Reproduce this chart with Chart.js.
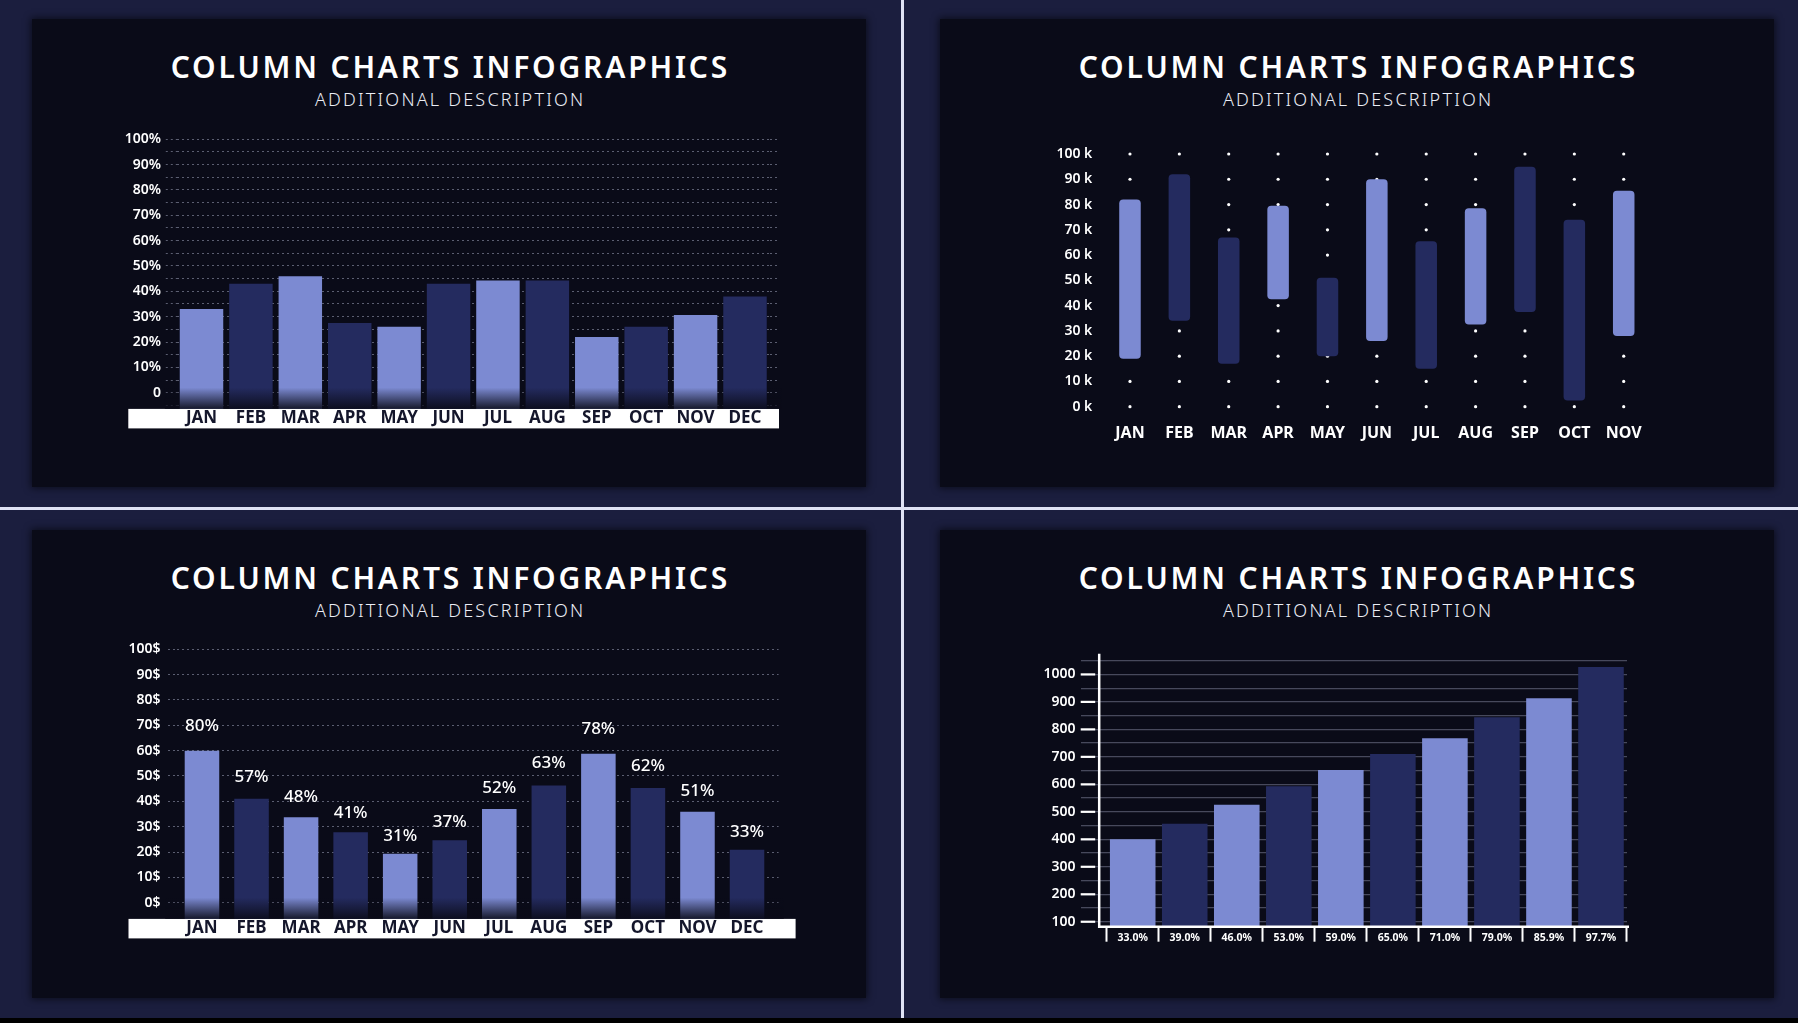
<!DOCTYPE html>
<html>
<head>
<meta charset="utf-8">
<script src="https://cdn.jsdelivr.net/npm/chart.js@4.4.1/dist/chart.umd.min.js"></script>
<style>
body{margin:0;width:1798px;height:1023px;background:#000;overflow:hidden;font-family:'Noto Sans',sans-serif}
#stage{position:absolute;left:0;top:0;width:1798px;height:1018px;background:#1b1e3e}
.vline{position:absolute;left:901px;top:0;width:3px;height:1018px;background:#dfe2f4}
.hline{position:absolute;left:0;top:507px;width:1798px;height:3px;background:#dfe2f4}
.panel{position:absolute;width:834px;height:468px;background:#0a0b18;box-shadow:0 0 7px 1px rgba(4,5,12,.7)}
.title{position:absolute;left:0;right:0;top:31px;line-height:34px;font-size:30px;font-weight:600;letter-spacing:2.8px;padding-left:2.8px;text-align:center;color:#fff}
.sub{position:absolute;left:0;right:0;top:69px;line-height:22px;font-size:18px;font-weight:300;letter-spacing:2.2px;padding-left:2.2px;text-align:center;color:#eceef6}
canvas{position:absolute}
</style>
</head>
<body>
<div id="stage">
  <div class="panel" style="left:32px;top:19px"><div class="title">COLUMN CHARTS INFOGRAPHICS</div><div class="sub">ADDITIONAL DESCRIPTION</div></div>
  <div class="panel" style="left:940px;top:19px"><div class="title">COLUMN CHARTS INFOGRAPHICS</div><div class="sub">ADDITIONAL DESCRIPTION</div></div>
  <div class="panel" style="left:32px;top:530px"><div class="title">COLUMN CHARTS INFOGRAPHICS</div><div class="sub">ADDITIONAL DESCRIPTION</div></div>
  <div class="panel" style="left:940px;top:530px"><div class="title">COLUMN CHARTS INFOGRAPHICS</div><div class="sub">ADDITIONAL DESCRIPTION</div></div>
  <div class="vline"></div>
  <div class="hline"></div>
</div>
<canvas id="share" width="670" height="320" style="left:120px;top:120px"></canvas>
<canvas id="ranges" width="630" height="320" style="left:1040px;top:130px"></canvas>
<canvas id="price" width="690" height="320" style="left:120px;top:630px"></canvas>
<canvas id="growth" width="650" height="320" style="left:1030px;top:640px"></canvas>
<script>
// top-left: monthly share
const months=["JAN","FEB","MAR","APR","MAY","JUN","JUL","AUG","SEP","OCT","NOV","DEC"];
const shareValues=[33,43,46,27.5,26,43,44.3,44.3,22,26,30.7,38];
const pctTicks=[0,10,20,30,40,50,60,70,80,90,100];

// top-right: floating ranges
const rangeMonths=["JAN","FEB","MAR","APR","MAY","JUN","JUL","AUG","SEP","OCT","NOV"];
const rangeLow=[19,34,17,42.5,20,26,15,32.5,37.5,2.5,28];
const rangeHigh=[82,92,67,79.5,51,90,65.5,78.5,95,74,85.5];
const kTicks=[0,10,20,30,40,50,60,70,80,90,100];

// bottom-left: price with percent tags
const priceValues=[60,41,33.7,27.8,19.3,24.6,37,46.2,58.8,45.3,35.9,20.9];
const priceTags=["80%","57%","48%","41%","31%","37%","52%","63%","78%","62%","51%","33%"];
const dollarTicks=[0,10,20,30,40,50,60,70,80,90,100];

// bottom-right: growth
const growthCats=["33.0%","39.0%","46.0%","53.0%","59.0%","65.0%","71.0%","79.0%","85.9%","97.7%"];
const growthValues=[400,457,526,593,652,710,768,844,913,1027];
const countTicks=[100,200,300,400,500,600,700,800,900,1000];

const LIGHT="#7c8ad2", DARK="#242b5f";
const alt=n=>Array.from({length:n},(_,i)=>i%2?DARK:LIGHT);
const rangeShades=[LIGHT,DARK,DARK,LIGHT,DARK,LIGHT,DARK,LIGHT,DARK,DARK,LIGHT];
const dotGrid="rgba(190,196,222,0.45)";
const gridGray="rgba(170,176,205,0.38)";

Chart.defaults.font.family="'Noto Sans', sans-serif";
Chart.defaults.color="#ffffff";
Chart.defaults.animation=false;
Chart.defaults.responsive=false;
Chart.defaults.plugins.legend.display=false;
Chart.defaults.plugins.tooltip.enabled=false;

// white strip behind the month labels
const band={
  id:"band",
  beforeDraw(chart,args,opts){
    const {ctx,chartArea:a,scales:{x}}=chart;
    ctx.save();
    ctx.fillStyle="#ffffff";
    ctx.fillRect(a.left-opts.left,x.top,a.right-a.left+opts.left+opts.right,x.bottom-x.top);
    ctx.restore();
  }
};

// bars fade out into the strip
const fade={
  id:"fade",
  afterDatasetsDraw(chart){
    const {ctx,chartArea:a,scales:{y}}=chart;
    const top=y.getPixelForValue(2);
    const g=ctx.createLinearGradient(0,top,0,a.bottom);
    g.addColorStop(0,"rgba(10,11,24,0)");
    g.addColorStop(1,"rgba(10,11,24,0.9)");
    ctx.save();
    ctx.fillStyle=g;
    ctx.fillRect(a.left-12,top,a.right-a.left+24,a.bottom-top);
    ctx.restore();
  }
};

const barTags={
  id:"barTags",
  afterDatasetsDraw(chart){
    const {ctx,chartArea:a}=chart;
    ctx.save();
    ctx.font="500 17px 'Noto Sans', sans-serif";
    ctx.fillStyle="#ffffff";
    ctx.textAlign="center";
    ctx.textBaseline="middle";
    chart.getDatasetMeta(0).data.forEach((bar,i)=>{
      const lift=13.3+0.068*(a.bottom-bar.y);
      ctx.fillText(priceTags[i],bar.x,bar.y-lift);
    });
    ctx.restore();
  }
};

// L shaped axis + white marks for the hundreds
const frame={
  id:"frame",
  afterDraw(chart){
    const {ctx,chartArea:a,scales:{y}}=chart;
    ctx.save();
    ctx.strokeStyle="#ffffff";
    ctx.lineWidth=2.2;
    y.ticks.forEach(t=>{
      if(!countTicks.includes(t.value)) return;
      const py=y.getPixelForValue(t.value);
      ctx.beginPath();ctx.moveTo(a.left-26,py);ctx.lineTo(a.left-11.5,py);ctx.stroke();
    });
    const ax=a.left-7.5;
    ctx.lineWidth=2.5;
    ctx.beginPath();
    ctx.moveTo(ax,a.top);ctx.lineTo(ax,a.bottom);ctx.lineTo(a.right+2,a.bottom);
    ctx.stroke();
    ctx.restore();
  }
};

const halfSteps=list=>list.flatMap(v=>[v-5,v]).map(v=>({value:v}));
const plainSteps=list=>list.map(v=>({value:v}));

new Chart(document.getElementById("share"),{
  type:"bar",
  data:{labels:months,datasets:[{data:shareValues,backgroundColor:alt(12),base:-6.4,categoryPercentage:1,barPercentage:0.88}]},
  options:{
    layout:{padding:{left:0,right:12,top:19.3,bottom:11.6}},
    scales:{
      x:{grid:{display:false,drawTicks:false},border:{display:false},ticks:{color:"#14162b",font:{size:17,weight:"bold"},padding:-1.1},afterFit:s=>{s.height=19.5;}},
      y:{min:-6.4,max:100,afterBuildTicks:s=>{s.ticks=halfSteps(pctTicks);},
        ticks:{autoSkip:false,callback:v=>pctTicks.includes(v)?(v?v+"%":"0"):"",font:{size:14,weight:"600"},padding:4.8},
        grid:{color:dotGrid,tickColor:dotGrid,tickLength:11,tickBorderDash:[2,3]},
        border:{display:false,dash:[2,3]},afterFit:s=>{s.width=56.8;}},
      y2:{position:"right",min:-6.4,max:100,afterBuildTicks:s=>{s.ticks=halfSteps(pctTicks);},
        ticks:{display:false,autoSkip:false},grid:{drawOnChartArea:false,tickColor:dotGrid,tickLength:8.3,tickBorderDash:[2,3]},
        border:{display:false},afterFit:s=>{s.width=8.3;}}
    },
    plugins:{band:{left:48.5,right:9.3}}
  },
  plugins:[band,fade]
});

new Chart(document.getElementById("ranges"),{
  type:"bar",
  data:{labels:rangeMonths,datasets:[
    {data:rangeLow.map((lo,i)=>[lo,rangeHigh[i]]),backgroundColor:rangeShades,borderRadius:4,borderSkipped:false,categoryPercentage:1,barPercentage:0.436,order:0},
    {type:"line",data:rangeMonths.flatMap(m=>kTicks.map(k=>({x:m,y:k}))),showLine:false,pointRadius:1.6,pointBackgroundColor:"#ffffff",pointBorderWidth:0,order:1,clip:false}
  ]},
  options:{
    layout:{padding:{left:0,right:21.6,top:24,bottom:3.3}},
    scales:{
      x:{grid:{display:false,drawTicks:false},border:{display:false},ticks:{font:{size:16,weight:"bold"},padding:17},afterFit:s=>{s.height=40;}},
      y:{min:0,max:100,afterBuildTicks:s=>{s.ticks=plainSteps(kTicks);},ticks:{autoSkip:false,callback:v=>v+" k",font:{size:14,weight:"600"},padding:13},
        grid:{display:false,drawTicks:false},border:{display:false},afterFit:s=>{s.width=65.3;}}
    }
  }
});

new Chart(document.getElementById("price"),{
  type:"bar",
  data:{labels:months,datasets:[{data:priceValues,backgroundColor:alt(12),base:-6.4,categoryPercentage:1,barPercentage:0.697}]},
  options:{
    layout:{padding:{left:0,right:31.4,top:19.3,bottom:11.6}},
    scales:{
      x:{grid:{display:false,drawTicks:false},border:{display:false},ticks:{color:"#14162b",font:{size:17,weight:"bold"},padding:-1.3},afterFit:s=>{s.height=19.5;}},
      y:{min:-6.4,max:100,afterBuildTicks:s=>{s.ticks=plainSteps(dollarTicks);},
        ticks:{autoSkip:false,callback:v=>v+"$",font:{size:14,weight:"600"},padding:7.4},
        grid:{color:dotGrid,tickColor:dotGrid,tickLength:9.2,tickBorderDash:[2,3]},
        border:{display:false,dash:[2,3]},afterFit:s=>{s.width=57.2;}},
      y2:{position:"right",min:-6.4,max:100,afterBuildTicks:s=>{s.ticks=plainSteps(dollarTicks);},
        ticks:{display:false,autoSkip:false},grid:{drawOnChartArea:false,tickColor:dotGrid,tickLength:6.8,tickBorderDash:[2,3]},
        border:{display:false},afterFit:s=>{s.width=6.8;}}
    },
    plugins:{band:{left:48.7,right:23.8}}
  },
  plugins:[band,fade,barTags]
});

new Chart(document.getElementById("growth"),{
  type:"bar",
  data:{labels:growthCats,datasets:[{data:growthValues,backgroundColor:alt(10),categoryPercentage:1,barPercentage:0.876}]},
  options:{
    layout:{padding:{left:0,right:53,top:12.6,bottom:13.3}},
    scales:{
      x:{grid:{offset:true,drawOnChartArea:false,tickLength:15,tickColor:"#ffffff",tickWidth:2},border:{display:false},
        ticks:{font:{size:10.5,weight:"bold"},padding:-9.7},afterFit:s=>{s.height=20;}},
      y:{min:82,max:1075,afterBuildTicks:s=>{s.ticks=countTicks.flatMap(v=>[v,v+50]).map(v=>({value:v}));},
        ticks:{autoSkip:false,callback:v=>countTicks.includes(v)?v:"",font:{size:14,weight:"600"},padding:5.4},
        grid:{color:gridGray,tickColor:gridGray,tickLength:25.7,lineWidth:1.3},
        border:{display:false},afterFit:s=>{s.width=76.7;}}
    }
  },
  plugins:[frame]
});
</script>
</body>
</html>
